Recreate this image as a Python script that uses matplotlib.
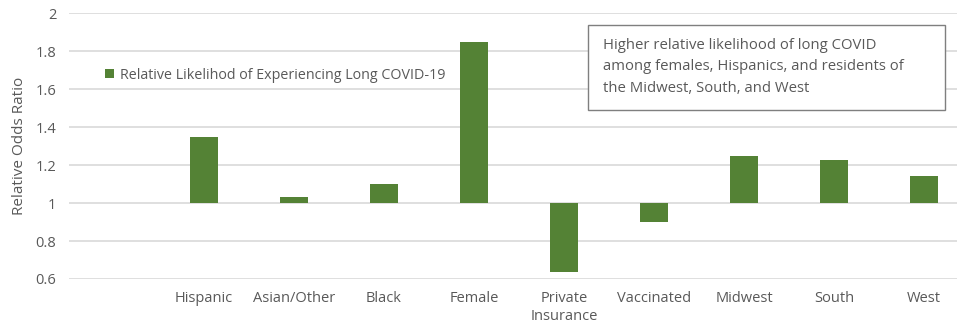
import matplotlib.pyplot as plt
from matplotlib.patches import Rectangle

# Odds ratios by group (first slot left empty)
categories = ['', 'Hispanic', 'Asian/Other', 'Black', 'Female', 'Private\nInsurance',
              'Vaccinated', 'Midwest', 'South', 'West']
odds_ratio = [None, 1.35, 1.03, 1.10, 1.85, 0.635, 0.90, 1.25, 1.225, 1.14]
yticks = [0.6, 0.8, 1, 1.2, 1.4, 1.6, 1.8, 2]
ytick_labels = ['0.6', '0.8', '1', '1.2', '1.4', '1.6', '1.8', '2']

note = ('Higher relative likelihood of long COVID\n'
        'among females, Hispanics, and residents of\n'
        'the Midwest, South, and West')

plt.rcParams['font.family'] = ['Open Sans', 'DejaVu Sans']
text_color = '#595959'
bar_color = '#548235'

fig = plt.figure(figsize=(9.57, 3.26), dpi=100)
W, H = 957, 326
ax = fig.add_axes([69 / W, 1 - 279 / H, 900 / W, 266 / H])

# bars start at 1 (no change in odds)
xs = [i for i, v in enumerate(odds_ratio) if v is not None]
heights = [odds_ratio[i] - 1 for i in xs]
ax.bar(xs, heights, bottom=1, width=0.31, color=bar_color,
       label='Relative Likelihod of Experiencing Long COVID-19', zorder=3)

ax.set_xlim(-0.5, len(categories) - 0.5)
ax.set_ylim(0.6, 2)
ax.set_yticks(yticks)
ax.set_yticklabels(ytick_labels)
ax.set_xticks(range(len(categories)))
ax.set_xticklabels(categories, linespacing=1.25)
ax.tick_params(length=0, labelsize=10.5, colors=text_color)
ax.tick_params(axis='x', pad=9)
ax.tick_params(axis='y', pad=9)
ax.yaxis.grid(True, color='#d9d9d9', linewidth=1.2)
ax.set_axisbelow(True)
for s in ax.spines.values():
    s.set_visible(False)
ax.set_ylabel('Relative Odds Ratio', fontsize=11, color=text_color, labelpad=6)

ax.legend(loc='upper left', bbox_to_anchor=(30 / 900, 1 - 49 / 266), frameon=False,
          handlelength=0.65, handleheight=0.65, handletextpad=0.4,
          fontsize=10.3, labelcolor=text_color, borderaxespad=0)

# annotation box
fig.patches.append(Rectangle((588 / W, 1 - 110 / H), 357 / W, 85 / H,
                             transform=fig.transFigure, facecolor='white',
                             edgecolor='#7f7f7f', linewidth=1, zorder=5))
fig.text(603 / W, 1 - 67 / H, note, fontsize=10.7, color=text_color,
         va='center', ha='left', linespacing=1.55, zorder=6)

fig.savefig('out.png', dpi=100)
